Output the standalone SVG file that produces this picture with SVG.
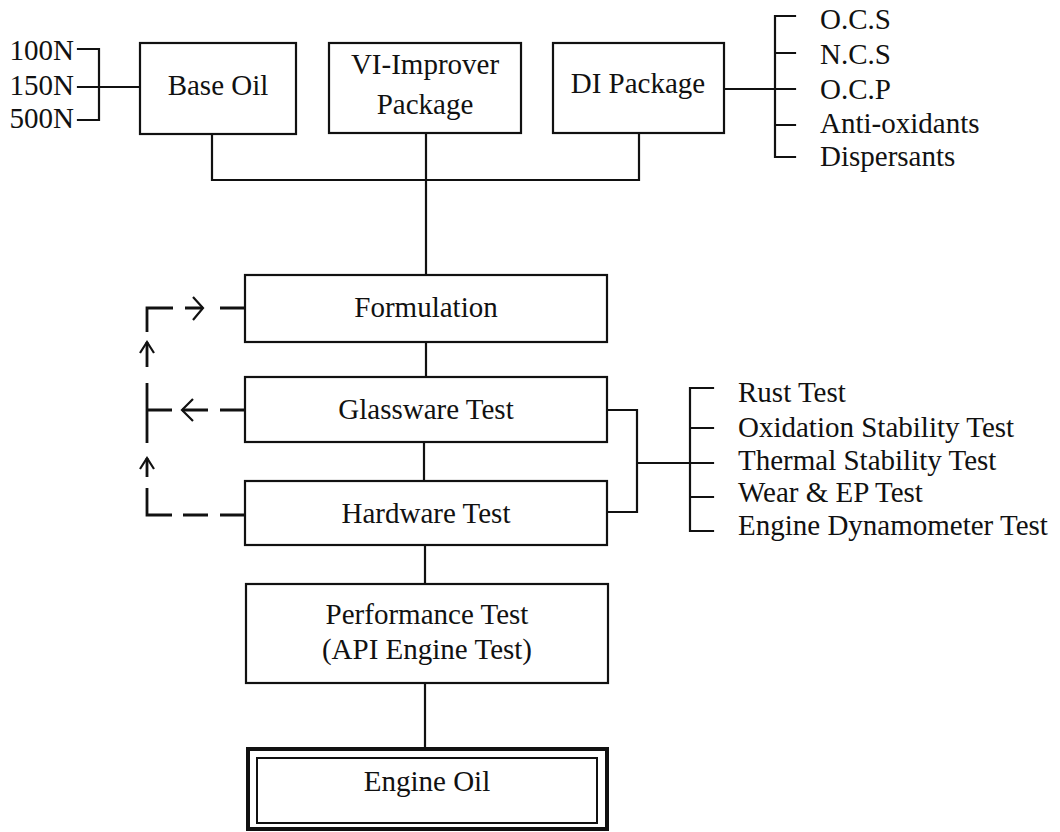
<svg xmlns="http://www.w3.org/2000/svg" width="1060" height="832" viewBox="0 0 1060 832">
<style>
  .box { fill: #fff; stroke: #111; stroke-width: 2.2; }
  .ln { fill: none; stroke: #111; stroke-width: 2.2; stroke-linecap: square; }
  .dl { fill: none; stroke: #111; stroke-width: 2.8; stroke-linecap: butt; }
  .ar { fill: none; stroke: #111; stroke-width: 2.2; stroke-linejoin: miter; }
  text { font-family: "Liberation Serif", "Times New Roman", serif; font-size: 29px; fill: #111; }
  .c { text-anchor: middle; }
  .e { text-anchor: end; }
</style>
<rect width="1060" height="832" fill="#fff"/>

<g id="connectors">
  <!-- base oil grades bracket -->
  <path class="ln" d="M78,49 H99 V120 H78 M78,87 H140"/>
  <!-- top boxes to formulation -->
  <path class="ln" d="M212,134 V180 H639 V133 M426,133 V275"/>
  <!-- DI package components -->
  <path class="ln" d="M724,89 H775 M775,16 V157 M775,16 H795 M775,53 H795 M775,89 H795 M775,125 H795 M775,157 H795"/>
  <!-- main chain -->
  <path class="ln" d="M426,342 V377 M424,442 V481 M425,545 V584 M425,683 V748"/>
  <!-- tests bracket -->
  <path class="ln" d="M607,410 H637 V512 H607 M637,463 H690 M690,388 V531 M690,388 H713 M690,428 H713 M690,463 H713 M690,497 H713 M690,531 H713"/>
  <!-- dashed feedback loop -->
  <g id="feedback">
    <path class="dl" d="M173,308 H147 V332 M147,342 V367 M147,383 V443 M147,458 V477 M147,488 V515 H172 M185,308 H203 M220,308 H245 M147,410 H172 M182,410 H208 M220,410 H245 M183,515 H208 M220,515 H245"/>
    <polyline class="ar" points="193,297 203,308 193,320"/>
    <polyline class="ar" points="193,399 182,410 193,421"/>
    <polyline class="ar" points="140,353 147,342 154,353"/>
    <polyline class="ar" points="140,469 147,458 154,469"/>
  </g>
</g>

<g id="grades">
  <text class="e" x="74" y="60">100N</text>
  <text class="e" x="74" y="95">150N</text>
  <text class="e" x="74" y="128">500N</text>
</g>

<g id="base-oil">
  <rect class="box" x="140" y="43" width="156" height="91"/>
  <text class="c" x="218" y="95">Base Oil</text>
</g>

<g id="vi-improver">
  <rect class="box" x="329" y="43" width="192" height="90"/>
  <text class="c" x="425" y="74">VI-Improver</text>
  <text class="c" x="425" y="114">Package</text>
</g>

<g id="di-package">
  <rect class="box" x="553" y="43" width="171" height="90"/>
  <text class="c" x="638" y="93">DI Package</text>
</g>

<g id="di-components">
  <text x="820" y="29">O.C.S</text>
  <text x="820" y="64">N.C.S</text>
  <text x="820" y="99">O.C.P</text>
  <text x="820" y="133">Anti-oxidants</text>
  <text x="820" y="166">Dispersants</text>
</g>

<g id="formulation">
  <rect class="box" x="245" y="275" width="362" height="67"/>
  <text class="c" x="426" y="317">Formulation</text>
</g>

<g id="glassware-test">
  <rect class="box" x="245" y="377" width="362" height="65"/>
  <text class="c" x="426" y="419">Glassware Test</text>
</g>

<g id="hardware-test">
  <rect class="box" x="245" y="481" width="362" height="64"/>
  <text class="c" x="426" y="523">Hardware Test</text>
</g>

<g id="test-items">
  <text x="738" y="402">Rust Test</text>
  <text x="738" y="437">Oxidation Stability Test</text>
  <text x="738" y="470">Thermal Stability Test</text>
  <text x="738" y="502">Wear &amp; EP Test</text>
  <text x="738" y="535">Engine Dynamometer Test</text>
</g>

<g id="performance-test">
  <rect class="box" x="246" y="584" width="362" height="99"/>
  <text class="c" x="427" y="624">Performance Test</text>
  <text class="c" x="427" y="659">(API Engine Test)</text>
</g>

<g id="engine-oil">
  <rect x="248" y="749" width="359" height="80" fill="#fff" stroke="#111" stroke-width="4"/>
  <rect x="257" y="758" width="340" height="65" fill="none" stroke="#111" stroke-width="2"/>
  <text class="c" x="427" y="791">Engine Oil</text>
</g>
</svg>
